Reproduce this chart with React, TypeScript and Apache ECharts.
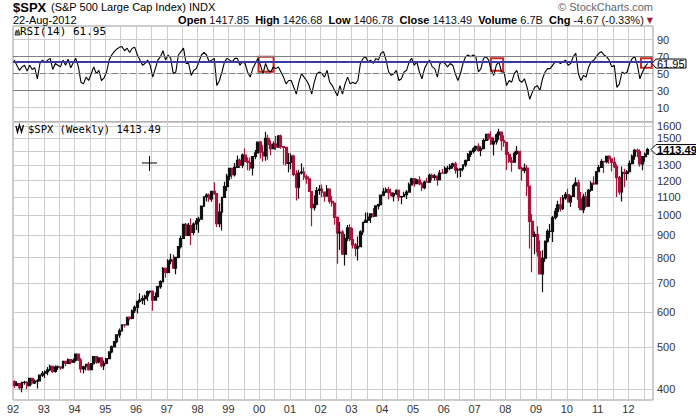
import React, { useEffect, useRef } from "react";
import * as echarts from "echarts";

// ---- data (monthly, Jan 1992 .. Aug 2012) ----
const START_YEAR = 1992;
const PREV_CLOSE = 417.09;
const CLOSE = [
  408.79, 412.7, 403.69, 414.95, 415.35, 408.14, 424.21, 414.03, 417.8, 418.68, 431.35, 435.71,
  438.78, 443.38, 451.67, 440.19, 450.19, 450.53, 448.13, 463.56, 458.93, 467.83, 461.79, 466.45,
  481.61, 467.14, 445.77, 450.91, 456.5, 444.27, 458.26, 475.49, 462.69, 472.35, 453.69, 459.27,
  470.42, 487.39, 500.71, 514.71, 533.4, 544.75, 562.06, 561.88, 584.41, 581.5, 605.37, 615.93,
  636.02, 640.43, 645.5, 654.17, 669.12, 670.63, 639.95, 651.99, 687.31, 705.27, 757.02, 740.74,
  786.16, 790.82, 757.12, 801.34, 848.28, 885.14, 954.29, 899.47, 947.28, 914.62, 955.4, 970.43,
  980.28, 1049.34, 1101.75, 1111.75, 1090.82, 1133.84, 1120.67, 957.28, 1017.01, 1098.67, 1163.63, 1229.23,
  1279.64, 1238.33, 1286.37, 1335.18, 1301.84, 1372.71, 1328.72, 1320.41, 1282.71, 1362.93, 1388.91, 1469.25,
  1394.46, 1366.42, 1498.58, 1452.43, 1420.6, 1454.6, 1430.83, 1517.68, 1436.51, 1429.4, 1314.95, 1320.28,
  1366.01, 1239.94, 1160.33, 1249.46, 1255.82, 1224.42, 1211.23, 1133.58, 1040.94, 1059.78, 1139.45, 1148.08,
  1130.2, 1106.73, 1147.39, 1076.92, 1067.14, 989.82, 911.62, 916.07, 815.28, 885.76, 936.31, 879.82,
  855.7, 841.15, 848.18, 916.92, 963.59, 974.5, 990.31, 1008.01, 995.97, 1050.71, 1058.2, 1111.92,
  1131.13, 1144.94, 1126.21, 1107.3, 1120.68, 1140.84, 1101.72, 1104.24, 1114.58, 1130.2, 1173.82, 1211.92,
  1181.27, 1203.6, 1180.59, 1156.85, 1191.5, 1191.33, 1234.18, 1220.33, 1228.81, 1207.01, 1249.48, 1248.29,
  1280.08, 1280.66, 1294.83, 1310.61, 1270.09, 1270.2, 1276.66, 1303.82, 1335.85, 1377.94, 1400.63, 1418.3,
  1438.24, 1406.82, 1420.86, 1482.37, 1530.62, 1503.35, 1455.27, 1473.99, 1526.75, 1549.38, 1481.14, 1468.36,
  1378.55, 1330.63, 1322.7, 1385.59, 1400.38, 1280.0, 1267.38, 1282.83, 1166.36, 968.75, 896.24, 903.25,
  825.88, 735.09, 797.87, 872.81, 919.14, 919.32, 987.48, 1020.62, 1057.08, 1036.19, 1095.63, 1115.1,
  1073.87, 1104.49, 1169.43, 1186.69, 1089.41, 1030.71, 1101.6, 1049.33, 1141.2, 1183.26, 1180.55, 1257.64,
  1286.12, 1327.22, 1325.83, 1363.61, 1345.2, 1320.64, 1292.28, 1218.89, 1131.42, 1253.3, 1246.96, 1257.6,
  1312.41, 1365.68, 1408.47, 1397.91, 1310.33, 1362.16, 1379.32, 1413.49,
];
const HIGH = [
  420, 418, 413, 417, 419, 418, 425, 425, 422, 422, 432, 441,
  442, 450, 456, 452, 454, 454, 452, 464, 464, 471, 468, 471,
  482, 482, 472, 453, 458, 462, 460, 477, 476, 474, 474, 466,
  472, 489, 504, 515, 534, 551, 563, 564, 585, 587, 609, 622,
  638, 664, 656, 659, 673, 673, 673, 666, 690, 711, 762, 760,
  794, 817, 814, 804, 851, 898, 957, 961, 961, 983, 963, 986,
  992, 1050, 1106, 1123, 1122, 1138, 1190, 1122, 1066, 1103, 1193, 1245,
  1280, 1281, 1317, 1370, 1348, 1384, 1421, 1357, 1355, 1364, 1411, 1474,
  1478, 1445, 1553, 1528, 1482, 1474, 1518, 1525, 1531, 1437, 1432, 1389,
  1384, 1376, 1268, 1269, 1316, 1287, 1240, 1226, 1135, 1110, 1161, 1173,
  1176, 1131, 1173, 1148, 1107, 1070, 994, 965, 925, 907, 951, 954,
  935, 864, 895, 924, 965, 1015, 1015, 1011, 1040, 1053, 1063, 1112,
  1155, 1158, 1163, 1150, 1128, 1146, 1141, 1109, 1132, 1142, 1188, 1218,
  1217, 1212, 1229, 1192, 1199, 1219, 1245, 1246, 1243, 1233, 1270, 1276,
  1295, 1297, 1310, 1319, 1326, 1284, 1283, 1306, 1340, 1389, 1407, 1431,
  1441, 1462, 1439, 1499, 1535, 1540, 1556, 1504, 1539, 1576, 1545, 1524,
  1471, 1396, 1359, 1397, 1440, 1404, 1292, 1313, 1303, 1167, 1007, 919,
  944, 876, 832, 876, 930, 956, 997, 1039, 1080, 1101, 1113, 1130,
  1150, 1112, 1180, 1220, 1206, 1131, 1120, 1130, 1149, 1196, 1228, 1263,
  1303, 1344, 1333, 1366, 1371, 1346, 1357, 1308, 1230, 1293, 1277, 1270,
  1334, 1378, 1420, 1422, 1416, 1364, 1392, 1427,
];
const LOW = [
  403, 407, 400, 394, 410, 401, 408, 410, 412, 402, 417, 427,
  425, 431, 441, 436, 437, 443, 444, 446, 452, 458, 457, 460,
  463, 465, 437, 435, 442, 442, 444, 456, 458, 459, 449, 443,
  457, 469, 484, 499, 510, 525, 544, 554, 560, 576, 579, 598,
  597, 631, 626, 624, 637, 662, 605, 638, 649, 680, 702, 720,
  737, 773, 756, 733, 798, 840, 884, 897, 898, 855, 902, 926,
  912, 980, 1045, 1076, 1074, 1074, 1114, 940, 939, 923, 1097, 1137,
  1205, 1212, 1226, 1282, 1282, 1281, 1327, 1268, 1264, 1233, 1343, 1387,
  1348, 1326, 1333, 1339, 1372, 1420, 1410, 1429, 1419, 1305, 1299, 1255,
  1275, 1228, 1081, 1091, 1240, 1204, 1180, 1133, 944, 1026, 1054, 1114,
  1100, 1074, 1105, 1063, 1048, 952, 775, 833, 815, 768, 873, 872,
  840, 806, 789, 847, 902, 963, 962, 960, 990, 995, 1031, 1060,
  1105, 1124, 1088, 1107, 1076, 1113, 1078, 1060, 1102, 1090, 1130, 1173,
  1163, 1180, 1171, 1137, 1147, 1188, 1191, 1201, 1201, 1168, 1201, 1246,
  1246, 1253, 1268, 1280, 1245, 1219, 1224, 1261, 1290, 1327, 1360, 1385,
  1403, 1397, 1364, 1416, 1476, 1484, 1448, 1370, 1452, 1489, 1406, 1435,
  1270, 1317, 1257, 1324, 1373, 1272, 1200, 1248, 1107, 840, 741, 815,
  805, 735, 667, 783, 866, 888, 869, 978, 992, 1020, 1029, 1086,
  1071, 1045, 1104, 1169, 1040, 1028, 1011, 1040, 1049, 1132, 1173, 1180,
  1257, 1289, 1249, 1313, 1311, 1259, 1283, 1101, 1115, 1075, 1159, 1202,
  1257, 1310, 1340, 1358, 1292, 1267, 1325, 1377,
];
const RSI = [
  66, 60, 54, 58, 60, 53, 60, 55, 57, 44, 62, 66,
  63, 66, 68, 55, 62, 60, 58, 66, 60, 67, 57, 63,
  68, 58, 40, 38, 46, 42, 50, 58, 50, 54, 42, 45,
  52, 66, 72, 76, 79, 81, 82, 77, 80, 75, 80, 81,
  72, 66, 60, 62, 66, 60, 46, 56, 66, 70, 77, 66,
  72, 68, 50, 52, 72, 76, 80, 62, 62, 48, 54, 56,
  64, 72, 75, 72, 64, 66, 68, 36, 42, 52, 64, 68,
  66, 64, 68, 68, 60, 64, 62, 52, 46, 56, 62, 68,
  60, 50, 62, 54, 52, 58, 56, 58, 52, 46, 38, 42,
  42, 34, 26, 40, 50, 46, 42, 36, 26, 40, 50, 52,
  50, 46, 54, 40, 36, 30, 24, 36, 26, 38, 46, 38,
  40, 38, 42, 62, 68, 70, 64, 66, 62, 68, 66, 74,
  76, 66, 52, 48, 50, 54, 42, 44, 52, 54, 64, 68,
  60, 64, 52, 44, 56, 62, 66, 58, 56, 46, 62, 64,
  62, 58, 62, 60, 50, 42, 50, 62, 70, 72, 70, 72,
  70, 52, 56, 68, 70, 66, 54, 48, 60, 64, 52, 52,
  36, 42, 40, 50, 54, 42, 40, 44, 34, 20, 28, 34,
  36, 30, 44, 52, 56, 56, 60, 64, 64, 62, 64, 66,
  60, 62, 70, 74, 50, 42, 48, 46, 58, 64, 66, 70,
  74, 76, 72, 70, 66, 58, 60, 34, 38, 52, 50, 52,
  62, 68, 70, 60, 44, 52, 58, 61.95,
];
const PRICE_TICKS = [400, 500, 600, 700, 800, 900, 1000, 1100, 1200, 1300, 1400, 1500, 1600];
const PRICE_LABELS = [400, 500, 600, 700, 800, 900, 1000, 1100, 1200, 1300, 1500, 1600];
const PRICE_RANGE = [378.5, 1634];
const RSI_TICKS = [10, 30, 50, 70, 90];
const RSI_RANGE = [-6.8, 106.1];
const RSI_OVER = 70;
const RSI_MID = 50;
const RSI_UNDER = 30;
const TREND_LEVEL = 64;
const RED_BOXES = [
  [1999.98, 70, 2000.47, 52.4],
  [2007.53, 68.1, 2007.93, 53.5],
  [2012.41, 68.1, 2012.76, 57.1],
];
const X_RANGE = [1992, 2012.8];

const TITLE = "$SPX";
const SUBTITLE = "(S&P 500 Large Cap Index) INDX";
const DATE = "22-Aug-2012";
const QUOTE = [
  ["Open", "1417.85"],
  ["High", "1426.68"],
  ["Low", "1406.78"],
  ["Close", "1413.49"],
  ["Volume", "6.7B"],
  ["Chg", "-4.67 (-0.33%)"],
];
const COPYRIGHT = "\u00A9 StockCharts.com";
const RSI_LABEL = "RSI(14) 61.95";
const PRICE_LABEL = "$SPX (Weekly) 1413.49";

const FONT = "'Liberation Sans', Arial, sans-serif";
const MONO = "'DejaVu Sans Mono', monospace";
const lg = Math.log10;

function txt(x: number, y: number, text: string, extra: any = {}) {
  return {
    type: "text",
    x,
    y,
    z: 101,
    silent: true,
    style: {
      text,
      fontFamily: FONT,
      fontSize: 11,
      fill: "#000",
      textAlign: "left",
      align: "left",
      textVerticalAlign: "middle",
      verticalAlign: "middle",
      ...extra,
    },
  };
}

export default function App() {
  const ref = useRef<HTMLDivElement>(null);
  useEffect(() => {
    document.body.style.margin = "0";
    const chart = echarts.init(ref.current!, undefined, { renderer: "svg" });
    const xs = CLOSE.map((_, i) => START_YEAR + (i + 0.5) / 12);
    const candles = CLOSE.map((c, i) => [
      xs[i],
      lg(i === 0 ? PREV_CLOSE : CLOSE[i - 1]),
      lg(c),
      lg(LOW[i]),
      lg(HIGH[i]),
    ]);
    const rsiData = RSI.map((v, i) => [xs[i], v]);
    const hiBase = RSI.map((_, i) => [xs[i], RSI_OVER]);
    const hiFill = RSI.map((v, i) => [xs[i], Math.max(v, RSI_OVER) - RSI_OVER]);
    const loBase = RSI.map((v, i) => [xs[i], Math.min(v, RSI_UNDER)]);
    const loFill = RSI.map((v, i) => [xs[i], RSI_UNDER - Math.min(v, RSI_UNDER)]);

    const gridLine = { show: true, lineStyle: { color: "#cdcdcd", width: 1 } };
    const xBase = {
      type: "value",
      min: X_RANGE[0],
      max: X_RANGE[1],
      interval: 0.5,
      axisLine: { show: false },
      axisTick: { show: false },
      splitLine: gridLine,
    };
    const fillSeries = (name: string, data: any[], stack: string, fill: boolean, extra: any = {}) => ({
      type: "line",
      name,
      data,
      stack,
      xAxisIndex: 0,
      yAxisIndex: 0,
      symbol: "none",
      silent: true,
      lineStyle: { width: 0, opacity: 0 },
      areaStyle: fill ? { color: "#7d8c7b", opacity: 1 } : undefined,
      z: 1,
      ...extra,
    });

    const option: any = {
      animation: false,
      backgroundColor: "#fff",
      textStyle: { fontFamily: FONT },
      grid: [
        { left: 13, top: 26, width: 640, height: 96, show: true, borderColor: "#999", borderWidth: 1, backgroundColor: "#fff" },
        { left: 13, top: 122, width: 640, height: 278, show: true, borderColor: "#999", borderWidth: 1, backgroundColor: "#fff" },
      ],
      xAxis: [
        { ...xBase, gridIndex: 0, axisLabel: { show: false } },
        {
          ...xBase,
          gridIndex: 1,
          axisLabel: {
            color: "#333",
            fontSize: 11,
            fontFamily: FONT,
            margin: 3,
            formatter: (v: number) =>
              Math.abs(v - Math.round(v)) < 1e-6 ? String(Math.round(v) % 100).padStart(2, "0") : "",
          },
        },
      ],
      yAxis: [
        {
          type: "value",
          gridIndex: 0,
          position: "right",
          min: RSI_RANGE[0],
          max: RSI_RANGE[1],
          axisLine: { show: false },
          axisTick: { show: false, customValues: RSI_TICKS },
          axisLabel: { customValues: RSI_TICKS, color: "#333", fontSize: 11, fontFamily: FONT, margin: 4 },
          splitLine: gridLine,
        },
        {
          type: "value",
          gridIndex: 1,
          position: "right",
          min: lg(PRICE_RANGE[0]),
          max: lg(PRICE_RANGE[1]),
          axisLine: { show: false },
          axisTick: { show: false, customValues: PRICE_TICKS.map(lg) },
          axisLabel: {
            customValues: PRICE_LABELS.map(lg),
            color: "#333",
            fontSize: 11,
            fontFamily: FONT,
            margin: 4,
            formatter: (v: number) => String(Math.round(Math.pow(10, v))),
          },
          splitLine: gridLine,
        },
      ],
      series: [
        fillSeries("hiBase", hiBase, "hi", false, {
          markLine: {
            silent: true,
            symbol: ["none", "none"],
            label: { show: false },
            data: [
              { yAxis: RSI_OVER, lineStyle: { color: "#808080", width: 1, type: "solid" } },
              { yAxis: RSI_UNDER, lineStyle: { color: "#808080", width: 1, type: "solid" } },
              { yAxis: RSI_MID, lineStyle: { color: "#808080", width: 1, type: [6, 3] } },
            ],
          },
        }),
        fillSeries("hiFill", hiFill, "hi", true),
        fillSeries("loBase", loBase, "lo", false),
        fillSeries("loFill", loFill, "lo", true),
        {
          type: "line",
          name: "RSI",
          data: rsiData,
          xAxisIndex: 0,
          yAxisIndex: 0,
          symbol: "none",
          silent: true,
          z: 3,
          lineStyle: { color: "#000", width: 1.1 },
          markLine: {
            silent: true,
            symbol: ["none", "none"],
            label: { show: false },
            lineStyle: { color: "#3a3aa6", width: 2.2, type: "solid" },
            data: [{ yAxis: TREND_LEVEL }],
          },
          markArea: {
            silent: true,
            itemStyle: { color: "rgba(0,0,0,0)", borderColor: "#d42424", borderWidth: 2 },
            data: RED_BOXES.map((b) => [{ coord: [b[0], b[1]] }, { coord: [b[2], b[3]] }]),
          },
        },
        {
          type: "candlestick",
          name: "SPX",
          data: candles,
          encode: { x: 0, y: [1, 2, 3, 4] },
          xAxisIndex: 1,
          yAxisIndex: 1,
          barWidth: 2.4,
          silent: true,
          itemStyle: {
            color: "#111",
            color0: "#a8143c",
            borderColor: "#111",
            borderColor0: "#a8143c",
            borderWidth: 1.2,
          },
        },
      ],
    };
    chart.setOption(option);

    const lastClose = CLOSE[CLOSE.length - 1];
    const lastRsi = RSI[RSI.length - 1];
    const yP = chart.convertToPixel({ yAxisIndex: 1 } as any, lg(lastClose)) as number;
    const yR = chart.convertToPixel({ yAxisIndex: 0 } as any, lastRsi) as number;

    const quoteText = QUOTE.map(([k, v]) => `{b|${k}} ${v}`).join("  ") + " {t|\u25BC}";

    const graphic: any[] = [
      txt(13, 7, TITLE, { fontSize: 13, fontWeight: "bold" }),
      txt(51, 7, SUBTITLE, {}),
      txt(13, 20, DATE, {}),
      txt(653, 20, quoteText, {
        textAlign: "right",
        align: "right",
        fill: "#111",
        rich: {
          b: { fontWeight: "bold", fontSize: 11, fontFamily: FONT, fill: "#000" },
          t: { fontSize: 8, fontFamily: "'DejaVu Sans', sans-serif", fill: "#9b1b3b" },
        },
      }),
      txt(653, 6.5, COPYRIGHT, { textAlign: "right", align: "right", fill: "#666" }),
      txt(20, 31.8, RSI_LABEL, { fontFamily: MONO, fontSize: 11 }),
      txt(28, 129, PRICE_LABEL, { fontFamily: MONO, fontSize: 10.5 }),
      {
        type: "polygon",
        z: 100,
        silent: true,
        shape: { points: [[15, 35], [16.3, 30], [17.3, 32.5], [18.5, 29.5], [20, 35]] },
        style: { fill: "#7d8c7b", stroke: "#222", lineWidth: 0.8 },
      },
      {
        type: "polyline",
        z: 100,
        silent: true,
        shape: { points: [[16, 126], [17.5, 132], [19.5, 125], [21.5, 132], [23.5, 125]] },
        style: { stroke: "#111", lineWidth: 1.4, fill: null },
      },
      {
        type: "line",
        z: 100,
        silent: true,
        shape: { x1: 142, y1: 163, x2: 157, y2: 163 },
        style: { stroke: "#000", lineWidth: 1 },
      },
      {
        type: "line",
        z: 100,
        silent: true,
        shape: { x1: 149.5, y1: 156, x2: 149.5, y2: 171 },
        style: { stroke: "#000", lineWidth: 1 },
      },
      {
        type: "polygon",
        z: 100,
        silent: true,
        shape: { points: [[651, yP], [656, yP - 5], [700, yP - 5], [700, yP + 5], [656, yP + 5]] },
        style: { fill: "#fff", stroke: "#000", lineWidth: 1 },
      },
      txt(657, yP + 0.5, lastClose.toFixed(2), { fontWeight: "bold" }),
      {
        type: "polygon",
        z: 100,
        silent: true,
        shape: { points: [[652, yR], [656, yR - 4.5], [686, yR - 4.5], [686, yR + 4.5], [656, yR + 4.5]] },
        style: { fill: "#fff", stroke: "#000", lineWidth: 1 },
      },
      txt(657, yR + 0.5, lastRsi.toFixed(2), {}),
    ];
    chart.setOption({ graphic });
    return () => chart.dispose();
  }, []);
  return <div ref={ref} style={{ width: 696, height: 417 }} />;
}
